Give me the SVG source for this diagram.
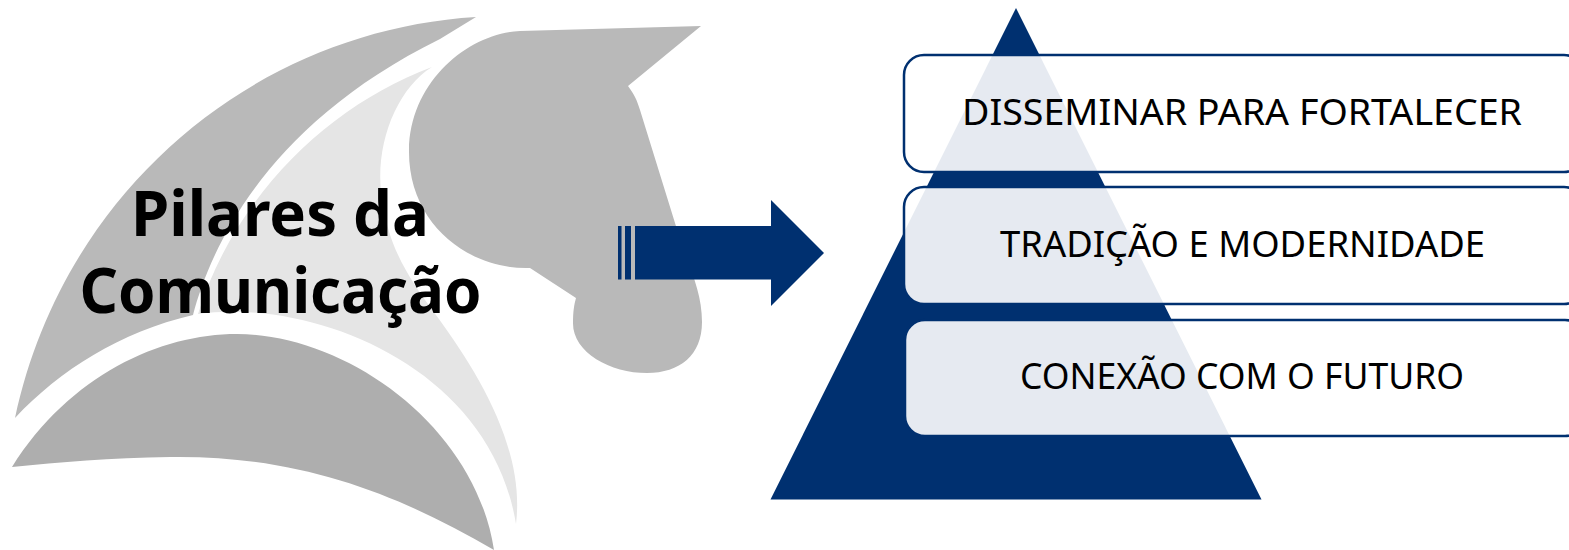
<svg xmlns="http://www.w3.org/2000/svg" width="1569" height="550" viewBox="0 0 1569 550">
<style>
.title{font-family:"Noto Sans","Inter","Liberation Sans",sans-serif;font-weight:700;font-size:62px;fill:#000}
.lbl{font-family:"Noto Sans","Inter","Liberation Sans",sans-serif;font-size:36px;fill:#000}
.box{fill:#fff;fill-opacity:.9;stroke:#003070;stroke-width:2.5}
.navy{fill:#003070}
</style>
<rect width="1569" height="550" fill="#fff"/>
<g id="logo">
<path id="swoosh" fill="#b9b9b9" d="M476 17C260 30 65 185 15 418C60 370 120 332 193 315C210 250 265 125 440 39Z"/>
<path id="mane" fill="#e5e5e5" d="M432 67C330 105 235 195 198 314C310 298 490 365 516 524C525 450 480 375 436 315C410 280 390 250 383 205C372 150 395 90 432 67Z"/>
<path id="head" fill="#b9b9b9" d="M701 26L628 86C634 94 637 100 640 110L675 223C688 265 702 290 702 322C702 355 680 373 647 373C610 373 572 352 573 322C573 312 574 305 576 298L530 268C470 270 408 225 409 150C410 80 470 33 520 31Z"/>
<path id="neck" fill="#aeaeae" d="M12 467C70 375 160 334 237 334C345 334 475 425 494 550C400 495 300 455 170 457C110 458 60 462 12 467Z"/>
</g>
<g id="titulo">
<text class="title" x="280" y="236" text-anchor="middle" textLength="298" lengthAdjust="spacingAndGlyphs">Pilares da</text>
<text class="title" x="280.5" y="313" text-anchor="middle" textLength="402" lengthAdjust="spacingAndGlyphs">Comunicação</text>
</g>
<g id="connectors">
<path id="arrow" class="navy" d="M635 226H771V200L824 253L771 306V279.5H635Z"/>
<rect class="navy" x="618" y="226" width="3.5" height="53.5"/>
<rect class="navy" x="625" y="226" width="6" height="53.5"/>
</g>
<polygon id="piramide" class="navy" points="1016,8 1261.500,499.500 770.500,499.500"/>
<g id="n1">
<rect class="box" x="904" y="55" width="680" height="117" rx="20"/>
<text class="lbl" x="1242" y="125" text-anchor="middle" textLength="560" lengthAdjust="spacingAndGlyphs">DISSEMINAR PARA FORTALECER</text>
</g>
<g id="n2">
<rect class="box" x="904" y="187" width="680" height="117" rx="20"/>
<text class="lbl" x="1242.5" y="257" text-anchor="middle" textLength="485" lengthAdjust="spacingAndGlyphs">TRADIÇÃO E MODERNIDADE</text>
</g>
<g id="n3">
<rect class="box" x="905" y="320" width="680" height="116" rx="20"/>
<text class="lbl" x="1242" y="389" text-anchor="middle" textLength="444" lengthAdjust="spacingAndGlyphs">CONEXÃO COM O FUTURO</text>
</g>
</svg>
